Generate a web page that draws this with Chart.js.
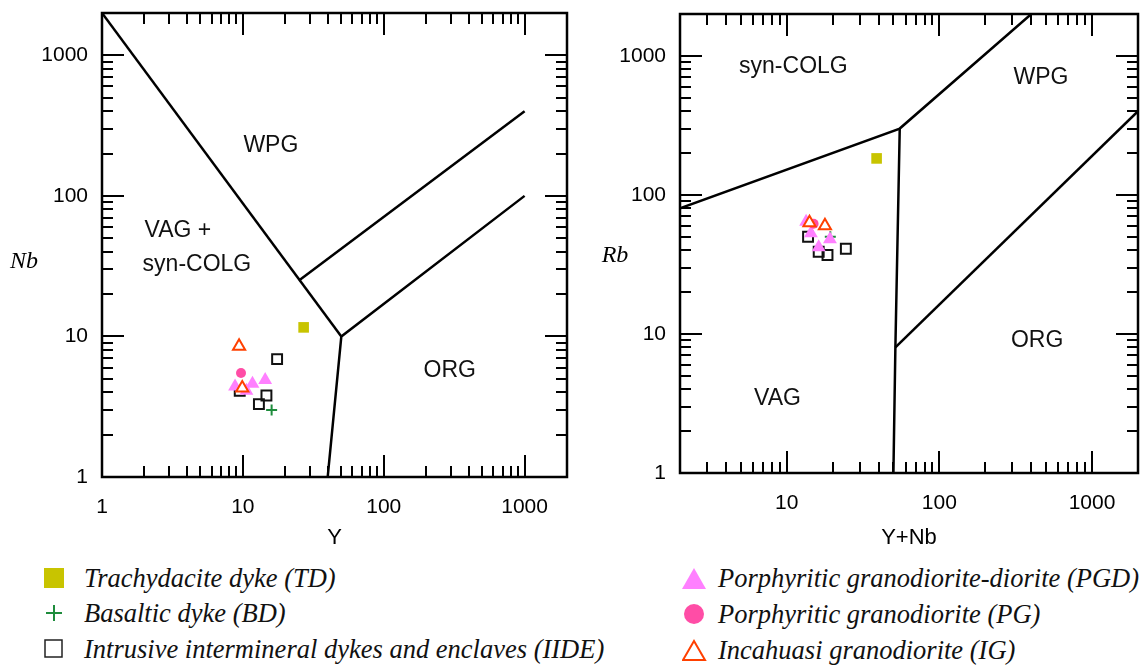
<!DOCTYPE html>
<html>
<head>
<meta charset="utf-8">
<script src="https://cdn.jsdelivr.net/npm/chart.js@4.4.1/dist/chart.umd.min.js"></script>
<style>
    body { margin: 0; background: #fff; width: 1147px; height: 667px; position: relative; overflow: hidden; }
    .chart-box { position: absolute; top: 0; height: 555px; }
    #boxNb { left: 0; width: 580px; }
    #boxRb { left: 580px; width: 567px; }
    .legend-item {
        position: absolute; height: 30px; width: 560px;
        font-family: 'Liberation Serif', 'Times New Roman', serif; font-style: italic;
        font-size: 26.5px; line-height: 30px; color: #111; white-space: nowrap;
    }
    .legend-item svg { position: absolute; left: 0; top: 4px; }
    .legend-item span { position: absolute; left: 41px; top: 0; }
</style>
</head>
<body>
<div class="chart-box" id="boxNb"><canvas id="nbChart"></canvas></div>
<div class="chart-box" id="boxRb"><canvas id="rbChart"></canvas></div>

<div class="legend-item" style="left:43px; top:563px;">
    <svg width="24" height="22"><rect x="1" y="1" width="20" height="20" fill="#C8C400"/></svg>
    <span>Trachydacite dyke (TD)</span>
</div>
<div class="legend-item" style="left:43px; top:598px;">
    <svg width="24" height="22"><path d="M3 11 H19 M11 3 V19" stroke="#1E8C3C" stroke-width="2"/></svg>
    <span>Basaltic dyke (BD)</span>
</div>
<div class="legend-item" style="left:43px; top:634px;">
    <svg width="24" height="22"><rect x="2" y="2" width="17" height="17" fill="none" stroke="#222" stroke-width="1.5"/></svg>
    <span>Intrusive intermineral dykes and enclaves (IIDE)</span>
</div>
<div class="legend-item" style="left:682px; top:563px;">
    <svg width="26" height="24"><polygon points="12,1 24,22 0,22" fill="#FF80FF"/></svg>
    <span style="left:36px;">Porphyritic granodiorite-diorite (PGD)</span>
</div>
<div class="legend-item" style="left:682px; top:599px;">
    <svg width="26" height="24"><circle cx="12" cy="11" r="10" fill="#FF4DA6"/></svg>
    <span style="left:36px;">Porphyritic granodiorite (PG)</span>
</div>
<div class="legend-item" style="left:682px; top:635px;">
    <svg width="26" height="24"><polygon points="12,2 23,21 1,21" fill="#fff" stroke="#FF4000" stroke-width="2"/></svg>
    <span style="left:36px;">Incahuasi granodiorite (IG)</span>
</div>

<script>
// Tectonic discrimination diagrams (Nb-Y and Rb-(Y+Nb))

// Axis ranges and tick labels
const nbYRange = [1, 2000];
const nbXRange = [1, 2000];
const rbYRange = [1, 2000];
const rbXRange = [2, 2000];
const nbXTicks = [1, 10, 100, 1000];
const nbYTicks = [1, 10, 100, 1000];
const rbXTicks = [10, 100, 1000];
const rbYTicks = [1, 10, 100, 1000];

// Field boundaries, Nb vs Y
const nbWpgVagLine = [[1, 2000], [50, 10]];
const nbWpgOrgLine = [[25, 25], [1000, 400]];
const nbVagOrgLine = [[40, 1], [50, 10], [1000, 100]];

// Field boundaries, Rb vs Y+Nb
const rbSynVagLine = [[2, 80], [55, 300], [400, 2000]];
const rbVagWpgLine = [[55, 300], [51.5, 8], [50, 1]];
const rbWpgOrgLine = [[51.5, 8], [2000, 400]];

// Samples, Nb vs Y  [Y, Nb]
const tdNbY = [[27, 11.6]];
const bdNbY = [[16, 3.0]];
const iideNbY = [[17.5, 6.9], [14.7, 3.8], [13, 3.3], [9.5, 4.1]];
const pgdNbY = [[8.8, 4.4], [10.6, 4.1], [11.7, 4.6], [14.4, 4.9]];
const pgNbY = [[9.7, 5.5]];
const igNbY = [[9.4, 8.5], [9.9, 4.3]];

// Samples, Rb vs Y+Nb  [Y+Nb, Rb]
const tdRb = [[38.8, 183]];
const bdRb = [[19.3, 50]];
const iideRb = [[13.8, 50], [24.4, 41], [18.5, 37], [16.2, 39]];
const pgdRb = [[13.4, 64], [14.4, 53], [19.2, 48], [16.2, 42]];
const pgRb = [[15, 62]];
const igRb = [[14.1, 63], [17.8, 60]];

// Field names [text, x, y]
const nbFieldLabels = [['WPG', 15.8, 229], ['VAG +', 3.46, 57], ['syn-COLG', 4.72, 32.6], ['ORG', 294, 5.67]];
const rbFieldLabels = [['syn-COLG', 11.06, 835], ['WPG', 463, 697], ['ORG', 437, 9.0], ['VAG', 8.7, 3.45]];

const sansFont = "'Liberation Sans', Arial, sans-serif";

document.addEventListener('DOMContentLoaded', function() {
    buildDiagram('nbChart', {
        xRange: nbXRange, yRange: nbYRange, xTicks: nbXTicks, yTicks: nbYTicks,
        lines: [nbWpgVagLine, nbWpgOrgLine, nbVagOrgLine],
        samples: [tdNbY, bdNbY, iideNbY, pgdNbY, pgNbY, igNbY],
        fields: nbFieldLabels,
        xTitle: 'Y', yTitle: 'Nb', yTitleAt: [24, 262],
        padding: { top: 13, right: 13, left: 0, bottom: 0 },
        yWidth: 102, xHeight: 78
    });
    buildDiagram('rbChart', {
        xRange: rbXRange, yRange: rbYRange, xTicks: rbXTicks, yTicks: rbYTicks,
        lines: [rbSynVagLine, rbVagWpgLine, rbWpgOrgLine],
        samples: [tdRb, bdRb, iideRb, pgdRb, pgRb, igRb],
        fields: rbFieldLabels,
        xTitle: 'Y+Nb', yTitle: 'Rb', yTitleAt: [35, 256],
        padding: { top: 14, right: 7, left: 0, bottom: 0 },
        yWidth: 100, xHeight: 82
    });
});

function toPoints(arr) {
    return arr.map(p => ({ x: p[0], y: p[1] }));
}

// Marker style for each rock group
const sampleStyles = [
    { pointStyle: 'rect', pointRadius: 7.5, backgroundColor: '#C8C400', borderColor: '#C8C400', borderWidth: 0, order: 6 },
    { pointStyle: 'cross', pointRadius: 5.5, backgroundColor: '#1E8C3C', borderColor: '#1E8C3C', borderWidth: 2, order: 4 },
    { pointStyle: 'rect', pointRadius: 7, backgroundColor: 'rgba(0,0,0,0)', borderColor: '#111', borderWidth: 2, order: 5 },
    { pointStyle: 'triangle', pointRadius: 8, backgroundColor: '#FF80FF', borderColor: '#FF80FF', borderWidth: 0, order: 3 },
    { pointStyle: 'circle', pointRadius: 5, backgroundColor: '#FF4DA6', borderColor: '#FF4DA6', borderWidth: 0, order: 2 },
    { pointStyle: 'triangle', pointRadius: 7, backgroundColor: '#fff', borderColor: '#FF4000', borderWidth: 2, order: 1 }
];

// Frame, inward ticks on all sides, field names and y title
const framePlugin = {
    id: 'frame',
    beforeDatasetsDraw(chart) {
        const { ctx, chartArea: a, scales: { x, y } } = chart;
        ctx.save();
        ctx.strokeStyle = '#000';
        ctx.lineWidth = 2.5;
        ctx.strokeRect(a.left, a.top, a.right - a.left, a.bottom - a.top);
        ctx.lineWidth = 2;
        ctx.beginPath();
        for (let d = 1; d <= 1000; d *= 10) {
            for (let m = 1; m <= 9; m++) {
                const v = d * m;
                const len = m === 1 ? 22 : 11;
                if (v > x.min && v < x.max) {
                    const px = Math.round(x.getPixelForValue(v));
                    ctx.moveTo(px, a.bottom); ctx.lineTo(px, a.bottom - len);
                    ctx.moveTo(px, a.top); ctx.lineTo(px, a.top + len);
                }
                if (v > y.min && v < y.max) {
                    const py = Math.round(y.getPixelForValue(v));
                    ctx.moveTo(a.left, py); ctx.lineTo(a.left + len, py);
                    ctx.moveTo(a.right, py); ctx.lineTo(a.right - len, py);
                }
            }
        }
        ctx.stroke();

        const opts = chart.options.plugins.frame;
        ctx.fillStyle = '#111';
        ctx.font = '23px ' + sansFont;
        ctx.textAlign = 'center';
        ctx.textBaseline = 'middle';
        opts.fields.forEach(f => {
            ctx.fillText(f[0], x.getPixelForValue(f[1]), y.getPixelForValue(f[2]));
        });
        ctx.font = "italic 24px 'Liberation Serif', 'Times New Roman', serif";
        ctx.fillStyle = '#000';
        ctx.fillText(opts.yTitle, opts.yTitleAt[0], opts.yTitleAt[1]);
        ctx.restore();
    }
};

function buildDiagram(canvasId, cfg) {
    const ctx = document.getElementById(canvasId);
    if (!ctx) return;

    const datasets = [];
    cfg.lines.forEach(line => {
        datasets.push({
            data: toPoints(line),
            showLine: true,
            borderColor: '#000',
            borderWidth: 2.5,
            pointRadius: 0,
            order: 10
        });
    });
    cfg.samples.forEach((s, i) => {
        datasets.push(Object.assign({ data: toPoints(s), showLine: false }, sampleStyles[i]));
    });

    new Chart(ctx, {
        type: 'scatter',
        data: { datasets: datasets },
        options: {
            responsive: true,
            maintainAspectRatio: false,
            animation: false,
            layout: { padding: cfg.padding },
            plugins: {
                legend: { display: false },
                tooltip: { enabled: false },
                frame: { fields: cfg.fields, yTitle: cfg.yTitle, yTitleAt: cfg.yTitleAt }
            },
            scales: {
                x: {
                    type: 'logarithmic',
                    min: cfg.xRange[0],
                    max: cfg.xRange[1],
                    afterBuildTicks: scale => { scale.ticks = cfg.xTicks.map(v => ({ value: v })); },
                    afterFit: scale => {
                        scale.height = cfg.xHeight;
                        scale.paddingLeft = 0;
                        scale.paddingRight = 0;
                    },
                    grid: { display: false, drawTicks: false },
                    border: { display: false },
                    ticks: {
                        padding: 18,
                        maxRotation: 0,
                        autoSkip: false,
                        color: '#000',
                        font: { family: sansFont, size: 21 },
                        callback: v => String(v)
                    },
                    title: {
                        display: true,
                        text: cfg.xTitle,
                        color: '#000',
                        font: { family: sansFont, size: 22 },
                        padding: { top: 0, bottom: 4 }
                    }
                },
                y: {
                    type: 'logarithmic',
                    min: cfg.yRange[0],
                    max: cfg.yRange[1],
                    afterBuildTicks: scale => { scale.ticks = cfg.yTicks.map(v => ({ value: v })); },
                    afterFit: scale => {
                        scale.width = cfg.yWidth;
                        scale.paddingTop = 0;
                        scale.paddingBottom = 0;
                    },
                    grid: { display: false, drawTicks: false },
                    border: { display: false },
                    ticks: {
                        padding: 14,
                        autoSkip: false,
                        color: '#000',
                        font: { family: sansFont, size: 21 },
                        callback: v => String(v)
                    }
                }
            }
        },
        plugins: [framePlugin]
    });
}
</script>
</body>
</html>
